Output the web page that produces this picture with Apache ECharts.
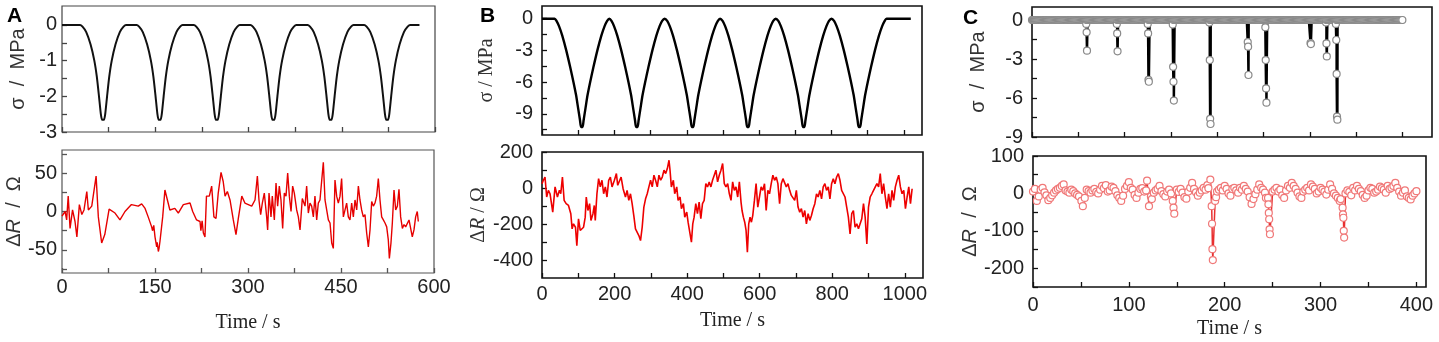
<!DOCTYPE html>
<html>
<head>
<meta charset="utf-8">
<title>stress and resistance</title>
<script src="https://cdn.jsdelivr.net/npm/echarts@6.0.0/dist/echarts.min.js"></script>
<style>
html, body { margin: 0; padding: 0; background: #fff; }
#main { width: 1439px; height: 342px; }
</style>
</head>
<body>
<div id="main"></div>
<script>
//---- A : stress, 6 cycles ----
var stressATime = [0,
	29,33,39,46,52,56,59.5,62.5,64.5,67.5,69.5,72.5,76,80,86,93,99,103,
	120,124,130,137,143,147,150.5,153.5,155.5,158.5,160.5,163.5,167,171,177,184,190,194,
	212,216,222,229,235,239,242.5,245.5,247.5,250.5,252.5,255.5,259,263,269,276,282,286,
	303,307,313,320,326,330,333.5,336.5,338.5,341.5,343.5,346.5,350,354,360,367,373,377,
	395,399,405,412,418,422,425.5,428.5,430.5,433.5,435.5,438.5,442,446,452,459,465,469,
	486,490,496,503,509,513,516.5,519.5,521.5,524.5,526.5,529.5,533,537,543,550,556,560,
	575];
var stressAValue = [0,
	0,-0.05,-0.2,-0.55,-1.0,-1.45,-2.0,-2.5,-2.66,-2.66,-2.5,-2.0,-1.45,-1.0,-0.55,-0.2,-0.05,0,
	0,-0.05,-0.2,-0.55,-1.0,-1.45,-2.0,-2.5,-2.66,-2.66,-2.5,-2.0,-1.45,-1.0,-0.55,-0.2,-0.05,0,
	0,-0.05,-0.2,-0.55,-1.0,-1.45,-2.0,-2.5,-2.66,-2.66,-2.5,-2.0,-1.45,-1.0,-0.55,-0.2,-0.05,0,
	0,-0.05,-0.2,-0.55,-1.0,-1.45,-2.0,-2.5,-2.66,-2.66,-2.5,-2.0,-1.45,-1.0,-0.55,-0.2,-0.05,0,
	0,-0.05,-0.2,-0.55,-1.0,-1.45,-2.0,-2.5,-2.66,-2.66,-2.5,-2.0,-1.45,-1.0,-0.55,-0.2,-0.05,0,
	0,-0.05,-0.2,-0.55,-1.0,-1.45,-2.0,-2.5,-2.66,-2.66,-2.5,-2.0,-1.45,-1.0,-0.55,-0.2,-0.05,0,
	0];
//---- A : delta R ----
var deltaRA = [[0,-6],[5,0],[7.5,-11],[10,20],[13,-22],[17,2],[21,-13],[24,-33],[28,9],[32,-4],[35.5,2],[40,26],[42.5,2],
	[48,7],[50.5,9],[55,46],[58.6,-7],[64,-41],[69,-30],[76,3],[85.5,-2],[93.5,-11],[101.6,0],[112,9],[123,7],[128.5,10],
	[134,4],[139,-7],[144.6,-20],[146,-25],[148,-18],[150,-33],[151,-38],[152.7,-46],[153.5,-40],[155.4,-52],[156.5,-48],
	[158,-39],[162.4,-7],[166,28],[170,15],[174,2],[182,4],[187.6,-2],[195.7,9],[206.5,11],[210.8,0],[217,-11],[222.6,-13],
	[224,-25],[226,-12],[228,-28],[230.6,-33],[233,20],[237.6,20],[241.4,33],[245,-7],[248.4,-9],[252,24],[256.5,51],[260,39],
	[263,20],[266.7,26],[271,15],[276.3,-11],[280.6,-30],[284.4,-9],[290,20],[295,11],[300.5,9],
	[306,7],[308.6,7],[311.3,15],[315.1,46],[317.7,15],[320.4,-4],[323.1,11],[326.3,24],[330.1,-7],[331.7,-24],[333.9,24],
	[337.1,-7],[339.2,20],[342.5,-11],[345.2,37],[347.8,7],[350.5,33],[353.2,15],[355.9,-22],[358.6,24],[361.3,20],[364,50],
	[366.7,20],[369.4,0],[372,33],[374.7,24],[378.5,2],[381.2,-7],[383.9,-24],[387.6,17],[392,7],[394.6,33],[397.3,-2],
	[400,11],[402.7,7],[405.4,-7],[408,20],[410.8,-11],[413.4,11],[416.1,15],[418.8,17],[421.5,64],[424.2,15],[426.9,2],
	[429.6,-11],[432.3,-15],[435,-41],[437.6,-48],[440.3,41],[443,20],[445.7,11],[448.4,20],[451,43],[453.8,-7],[456.5,-7],
	[459.1,11],[461.8,-7],[464.5,-11],[467.2,11],[469.9,-7],[472.6,15],[475.3,2],[478,33],[480.6,15],[483.3,2],[486,-7],
	[488.7,-4],[491.4,-28],[494.1,-46],[496.8,-24],[499.5,13],[502.2,7],[504.8,11],[507.5,20],[510.2,43],[512.9,15],
	[515.6,-7],[518.3,-11],[521,-15],[523.7,-20],[526.3,-37],[528,-61],[530.6,-41],[532.8,-15],[535.5,28],[538.2,2],
	[540.9,7],[543.5,29],[546.2,-7],[549,-22],[551.6,-17],[554.3,-20],[557,-20],[559.7,-11],[562.4,-13],[565,-33],
	[567.7,-24],[570.4,-7],[573,0],[574.7,-13]];

//---- B : stress, 6 cycles ----
var stressBTime = [0,35,
	40,47,56,67,78,87,94,100,105,108,112,115,120,126,133,142,153,164,173,180,186,
	192,199,208,219,230,239,246,252,257,260,264,267,272,278,285,294,305,316,325,332,339,
	346,353,362,373,384,393,400,406,411,414,418,421,426,432,439,448,459,470,479,486,492,
	499,506,515,526,537,546,553,559,564,567,571,574,579,585,592,601,612,623,632,639,646,
	653,660,669,680,691,700,707,713,718,721,725,728,733,739,746,755,766,777,786,793,800,
	807,814,823,834,845,854,861,867,872,875,879,882,887,893,900,909,920,931,940,947,952,
	1019];
var stressBValue = [0,0,
	-0.2,-0.7,-1.6,-3.0,-4.6,-6.0,-7.2,-8.5,-9.6,-10.25,-10.25,-9.6,-8.5,-7.2,-6.0,-4.6,-3.0,-1.6,-0.7,-0.2,0,
	-0.2,-0.7,-1.6,-3.0,-4.6,-6.0,-7.2,-8.5,-9.6,-10.25,-10.25,-9.6,-8.5,-7.2,-6.0,-4.6,-3.0,-1.6,-0.7,-0.2,0,
	-0.2,-0.7,-1.6,-3.0,-4.6,-6.0,-7.2,-8.5,-9.6,-10.25,-10.25,-9.6,-8.5,-7.2,-6.0,-4.6,-3.0,-1.6,-0.7,-0.2,0,
	-0.2,-0.7,-1.6,-3.0,-4.6,-6.0,-7.2,-8.5,-9.6,-10.25,-10.25,-9.6,-8.5,-7.2,-6.0,-4.6,-3.0,-1.6,-0.7,-0.2,0,
	-0.2,-0.7,-1.6,-3.0,-4.6,-6.0,-7.2,-8.5,-9.6,-10.25,-10.25,-9.6,-8.5,-7.2,-6.0,-4.6,-3.0,-1.6,-0.7,-0.2,0,
	-0.2,-0.7,-1.6,-3.0,-4.6,-6.0,-7.2,-8.5,-9.6,-10.25,-10.25,-9.6,-8.5,-7.2,-6.0,-4.6,-3.0,-1.6,-0.7,-0.2,0,
	0];
//---- B : delta R ----
var deltaRB = [[0,24],[3.7,43],[8.3,61],[12.9,-50],[17.5,-13],[22.2,-32],[29.6,-134],[36,6],[42.5,-50],[48,-13],[51.7,-32],
	[56.3,61],[61,-69],[66.5,-87],[73,-97],[79.4,-143],[83,-227],[86.8,-199],[92.3,-218],[96,-320],[100.6,-171],[105.3,-236],
	[110,-227],[114.5,-218],[119.1,-162],[122,-50],[126.5,-125],[131.2,-87],[134.9,-180],[140.4,-143],[144.1,-97],[146.8,-180],
	[151.4,-32],[156,52],[160.7,6],[165.3,43],[169.9,-32],[174.5,6],[179.1,-50],[183.8,43],[188.4,61],[193,6],[199.5,43],
	[205,80],[208.7,15],[214.2,6],[218,61],[223.5,-4],[230,-50],[234.5,-13],[239.2,-69],[243.8,-32],[248.4,-87],[253,-153],
	[257.6,-227],[262.3,-236],[266.9,-264],[271.5,-292],[276.1,-218],[280.7,-106],[285.4,-60],[290,-32],[294.6,6],[299.2,43],
	[303.8,6],[308.5,71],[313,43],[317.7,6],[322.3,71],[327,43],[331.5,61],[336.2,99],[340.8,80],[345.4,108],[350,154],
	[352.8,99],[356.5,6],[362,43],[365.7,-32],[371.3,6],[375,-69],[380.5,-50],[384.2,-115],[389.7,-87],[393.4,-162],
	[398.9,-134],[402.6,-190],[408,-180],[411.8,-301],[415.5,-199],[419.2,-162],[423.8,-87],[428.4,-143],[433,-78],
	[437.7,-171],[442.3,-87],[446.9,-69],[451.5,24],[456.2,6],[460.8,34],[465.4,6],[470,43],[474.7,71],[479.3,99],
	[483.9,34],[488.5,71],[493.2,99],[497.8,136],[502.4,24],[507,6],[511.7,24],[516.3,-32],[520.9,-69],
	[525.4,34],[530,-13],[534.6,6],[539.3,-50],[543.9,34],[548.5,-78],[551.3,-125],[555,-162],[558.7,-190],[562.4,-236],
	[566,-357],[569.7,-199],[573.4,-162],[577.1,-190],[580.8,-153],[585.4,-69],[590,24],[594.7,-106],[599.3,-50],[603.9,6],
	[608.5,-13],[613.2,24],[617.8,-125],[622.4,-13],[627,-32],[631.7,24],[636.3,71],[640.9,43],[645.5,61],[650.1,24],
	[654.8,-87],[659.4,24],[664,52],[668.6,61],[673.3,6],[677.9,24],[682.5,-13],[687.1,-41],[691.8,-32],[696.4,-69],
	[701,-13],[705.6,-106],[710.3,-134],[714.9,-115],[719.5,-162],[724.1,-125],[728.7,-199],[733.4,-143],[738,-180],
	[742.6,-153],[747.2,-115],[751.9,-87],[756.5,-32],[761.1,-50],[765.7,-13],[770.4,-60],[775,6],[779.6,24],[784.2,-13],
	[788.9,6],[793.5,-60],[798.1,24],[802.7,52],[807.3,24],[812,61],[816.6,80],[821.2,43],[825.8,-13],[830.5,-4],
	[835.1,-50],[839.7,-106],[844.3,-162],[849,-255],[853.6,-143],[858.2,-125],[862.8,-218],[867.5,-199],[872.1,-227],
	[876.7,-236],[881.3,-171],[886,-87],[890.6,-162],[895.2,-311],[899.8,-106],[904.4,-50],[909.1,-32],[913.7,-13],
	[918.3,-4],[923,24],[927.6,6],[932.2,80],[936.8,-32],[941.4,24],[946.1,-50],[950.7,-115],[955.3,-32],[960,-106],
	[964.6,-13],[969.2,-69],[973.8,6],[978.5,43],[983.1,71],[987.7,6],[992.3,-32],[997,-13],[1001.6,-115],[1006.2,-50],
	[1010.8,6],[1015.5,-87],[1020,-4]];

//---- C : stress, sampled every 1 s, baseline 0 with loading drops ----
var stressCStep = 1, stressCEnd = 400;
var stressCDips = [[58.6,-0.3],[59,-0.95],[59.4,-2.36],
	[91.6,-0.3],[92,-1.03],[92.4,-2.41],
	[125,-0.3],[125.4,-1.03],[125.8,-4.6],[126.2,-4.75],
	[152,-0.35],[152.4,-3.6],[152.8,-4.75],[153.2,-6.2],
	[191.6,-0.2],[192,-3.08],[192.4,-7.6],[192.8,-8.0],
	[233,-1.7],[233.4,-2.05],[233.8,-4.23],
	[252,-0.56],[252.4,-3.08],[252.8,-5.26],[253.2,-6.36],
	[300.8,-1.77],[301.2,-1.85],
	[317.6,-0.2],[318,-1.8],[318.4,-2.8],
	[328.2,-0.3],[328.6,-1.54],[329,-4.15],[329.4,-7.44],[329.8,-7.67]];
//---- C : delta R ----
var deltaRCNoise = [[0,5],[4,-20],[8,10],[12,3],[16,-18],[20,-5],[24,8],[28,15],[32,24],[36,5],[40,10],[44,0],[48,-8],
	[56,10],[60,2],[64,12],[68,0],[72,20],[76,22],[80,8],[84,15],[88,-5],[92,-20],[96,12],[100,30],[104,10],[108,-12],
	[112,12],[116,5],[119,34],[121,-34],[124,-15],[128,8],[132,20],[136,-2],[140,5],[144,0],[150,10],[154,12],[158,-10],
	[162,5],[166,28],[170,3],[174,2],[178,15],[182,22],[185,37],[190,-20],[192,5],[196,15],[200,20],[204,0],[208,12],
	[212,8],[216,15],[220,20],[224,5],[228,-28],[232,-2],[236,24],[240,10],[243,-12],[250,5],[254,15],[258,10],[262,-12],
	[266,20],[270,28],[274,12],[278,-8],[282,5],[286,15],[290,24],[294,12],[298,5],[302,10],[306,-3],[310,24],[314,0],
	[318,-12],[321,-15],[326,0],[330,4],[334,15],[338,20],[342,6],[346,-12],[350,8],[354,12],[358,5],[362,18],[366,10],
	[370,20],[374,15],[378,28],[382,5],[386,2],[390,-8],[394,-16],[398,0],[400,6]];
var deltaRCNoiseMid = [[2,12],[6,-8],[10,15],[14,-5],[18,-12],[22,2],[26,12],[30,20],[34,8],[38,2],[42,6],[46,-4],
	[54,-12],[58,6],[62,8],[66,4],[70,10],[74,14],[78,5],[82,18],[86,6],[90,-12],[94,-6],[98,20],[102,15],[106,-4],
	[110,2],[114,14],[118,8],[123,-8],[126,2],[130,12],[134,6],[138,-8],[142,10],[152,4],[156,2],[160,-14],[164,15],
	[168,12],[172,-6],[176,8],[180,10],[183,14],[191,-10],[194,10],[198,8],[202,12],[206,-6],[210,15],[214,2],[218,10],
	[222,12],[226,-10],[230,-15],[234,10],[238,15],[242,2],[252,10],[256,5],[260,-5],[264,8],[268,15],[272,20],[276,2],
	[280,-12],[284,10],[288,8],[292,18],[296,0],[300,15],[304,5],[308,10],[312,12],[316,-6],[320,-20],[328,8],[332,-5],
	[336,8],[340,12],[344,-4],[348,-6],[352,15],[356,2],[360,10],[364,14],[368,2],[372,12],[376,20],[380,15],[384,-6],
	[388,8],[392,-12],[396,-6]];
var deltaRCDips = [[50.5,-20],[52,-34],
	[145.8,-20],[146.6,-38],[147.4,-54],
	[186.4,-34],[186.8,-81],[187.2,-149],[187.6,-178],
	[245.2,-12],[245.6,-29],[246,-52],[246.4,-69],[246.8,-96],[247.2,-109],
	[323,-38],[323.4,-56],[323.8,-65],[324.2,-100],[324.6,-118]];

//---- tick positions and labels ----
var ticksAX = [0,75,150,225,300,375,450,525,600];
var labelsAX = [0,150,300,450,600];
var ticksAYTop = [-3,-2.5,-2,-1.5,-1,-0.5,0];
var labelsAYTop = [-3,-2,-1,0];
var ticksAYBottom = [-75,-50,-25,0,25,50,75];
var labelsAYBottom = [-50,0,50];
var ticksBX = [0,100,200,300,400,500,600,700,800,900,1000];
var labelsBX = [0,200,400,600,800,1000];
var ticksBYTop = [-10.5,-9,-7.5,-6,-4.5,-3,-1.5,0];
var labelsBYTop = [-9,-6,-3,0];
var ticksBYBottom = [-400,-300,-200,-100,0,100,200];
var labelsBYBottom = [-400,-200,0,200];
var ticksCX = [0,50,100,150,200,250,300,350,400];
var labelsCX = [0,100,200,300,400];
var ticksCYTop = [-9,-7.5,-6,-4.5,-3,-1.5,0];
var labelsCYTop = [-9,-6,-3,0];
var ticksCYBottom = [-250,-200,-150,-100,-50,0,50,100];
var labelsCYBottom = [-200,-100,0,100];

var sans = "'Liberation Sans', Arial, sans-serif";
var serif = "'Liberation Serif', 'Times New Roman', serif";

function zip_data(times, values){
	var out = [];
	for(var i = 0; i < times.length; i++){
		out.push([times[i], values[i]]);
	}
	return out;
}
// baseline samples of panel C merged with the drop points
function build_stress_c(){
	var out = [];
	for(var t = 0; t <= stressCEnd; t += stressCStep){
		out.push([t, 0]);
	}
	out = out.concat(stressCDips);
	out.sort(function(a, b){ return a[0] - b[0]; });
	return out;
}
function build_delta_c(){
	var out = deltaRCNoise.concat(deltaRCNoiseMid, deltaRCDips);
	out.sort(function(a, b){ return a[0] - b[0]; });
	return out;
}
function plain_number(v){
	return String(v);
}

function make_x_axis(grid_index, max, ticks, labels, show_label, label_margin, name_gap, border){
	return {
		type: 'value', gridIndex: grid_index, min: 0, max: max,
		axisLine: { show: false, onZero: false },
		axisTick: { show: true, inside: true, length: 5, customValues: ticks, lineStyle: { color: border, width: 1.3 } },
		axisLabel: { show: show_label, customValues: labels, formatter: plain_number, margin: label_margin,
			fontFamily: sans, fontSize: 20, color: '#222' },
		splitLine: { show: false },
		name: show_label ? 'Time / s' : '',
		nameLocation: 'middle', nameGap: name_gap,
		nameTextStyle: { fontFamily: serif, fontSize: 20, color: '#222' }
	};
}
function make_y_axis(grid_index, min, max, ticks, labels, name, name_font, name_gap, label_margin, border){
	return {
		type: 'value', gridIndex: grid_index, min: min, max: max,
		axisLine: { show: false, onZero: false },
		axisTick: { show: true, inside: true, length: 5, customValues: ticks, lineStyle: { color: border, width: 1.3 } },
		axisLabel: { customValues: labels, formatter: plain_number, margin: label_margin,
			fontFamily: sans, fontSize: 20, color: '#222' },
		splitLine: { show: false },
		name: name, nameLocation: 'middle', nameRotate: 90, nameGap: name_gap,
		nameTextStyle: {
			fontFamily: name_font, fontSize: 20, color: '#333',
			rich: { i: { fontFamily: name_font, fontSize: 20, fontStyle: 'italic', color: '#333' } }
		}
	};
}
function grid_box(left, top, width, height, border, bw){
	return { left: left, top: top, width: width, height: height, show: true,
		borderColor: border, borderWidth: bw, backgroundColor: 'transparent', outerBoundsMode: 'none' };
}

var chart = echarts.init(document.getElementById('main'));
var option = {
	animation: false,
	backgroundColor: '#fff',
	graphic: [
		{ type: 'text', left: 7, top: 6, style: { text: 'A', font: 'bold 21px ' + sans, fill: '#000' } },
		{ type: 'text', left: 480, top: 6, style: { text: 'B', font: 'bold 21px ' + sans, fill: '#000' } },
		{ type: 'text', left: 963, top: 8, style: { text: 'C', font: 'bold 21px ' + sans, fill: '#000' } }
	],
	grid: [
		grid_box(62, 6, 373, 126, '#444', 1.2),
		grid_box(62, 150, 372, 123, '#555', 1.2),
		grid_box(542, 6, 380, 129, '#111', 1.6),
		grid_box(542, 152, 381, 126, '#111', 1.6),
		grid_box(1032, 7, 400, 130, '#111', 1.6),
		grid_box(1033, 156, 393, 131, '#111', 1.6)
	],
	xAxis: [
		make_x_axis(0, 600, ticksAX, labelsAX, false, 4, 30, '#444'),
		make_x_axis(1, 600, ticksAX, labelsAX, true, 4, 40, '#555'),
		make_x_axis(2, 1050, ticksBX, labelsBX, false, 6, 30, '#111'),
		make_x_axis(3, 1050, ticksBX, labelsBX, true, 6, 33, '#111'),
		make_x_axis(4, 432, ticksCX, labelsCX, false, 8, 30, '#111'),
		make_x_axis(5, 410, ticksCX, labelsCX, true, 8, 32, '#111')
	],
	yAxis: [
		make_y_axis(0, -3, 0.53, ticksAYTop, labelsAYTop, 'σ  /  MPa', sans, 34, 5, '#444'),
		make_y_axis(1, -80, 80, ticksAYBottom, labelsAYBottom, 'Δ{i|R}  /  Ω', sans, 34, 5, '#555'),
		make_y_axis(2, -11, 1.2, ticksBYTop, labelsBYTop, 'σ / MPa', serif, 45, 9, '#111'),
		make_y_axis(3, -500, 200, ticksBYBottom, labelsBYBottom, 'Δ{i|R} / Ω', serif, 47, 9, '#111'),
		make_y_axis(4, -9, 1, ticksCYTop, labelsCYTop, 'σ  /  MPa', sans, 44, 9, '#111'),
		make_y_axis(5, -250, 100, ticksCYBottom, labelsCYBottom, 'Δ{i|R}  /  Ω', sans, 48, 9, '#111')
	],
	series: [
		{ type: 'line', xAxisIndex: 0, yAxisIndex: 0, data: zip_data(stressATime, stressAValue),
			symbol: 'none', smooth: 0.2, lineStyle: { color: '#111', width: 2 } },
		{ type: 'line', xAxisIndex: 1, yAxisIndex: 1, data: deltaRA,
			symbol: 'none', lineStyle: { color: '#e60000', width: 1.4 } },
		{ type: 'line', xAxisIndex: 2, yAxisIndex: 2, data: zip_data(stressBTime, stressBValue),
			symbol: 'none', smooth: 0.25, lineStyle: { color: '#000', width: 2.4 } },
		{ type: 'line', xAxisIndex: 3, yAxisIndex: 3, data: deltaRB,
			symbol: 'none', lineStyle: { color: '#ee0000', width: 1.6 } },
		{ type: 'line', xAxisIndex: 4, yAxisIndex: 4, data: build_stress_c(),
			symbol: 'circle', symbolSize: 7, showAllSymbol: true,
			itemStyle: { color: '#fff', borderColor: '#8a8a8a', borderWidth: 1.2 },
			lineStyle: { color: '#000', width: 2.5 } },
		{ type: 'line', xAxisIndex: 5, yAxisIndex: 5, data: build_delta_c(),
			symbol: 'circle', symbolSize: 7, showAllSymbol: true,
			itemStyle: { color: '#fff', borderColor: '#f07878', borderWidth: 1.2 },
			lineStyle: { color: '#e83030', width: 1.5 } }
	]
};
chart.setOption(option);
</script>
</body>
</html>
